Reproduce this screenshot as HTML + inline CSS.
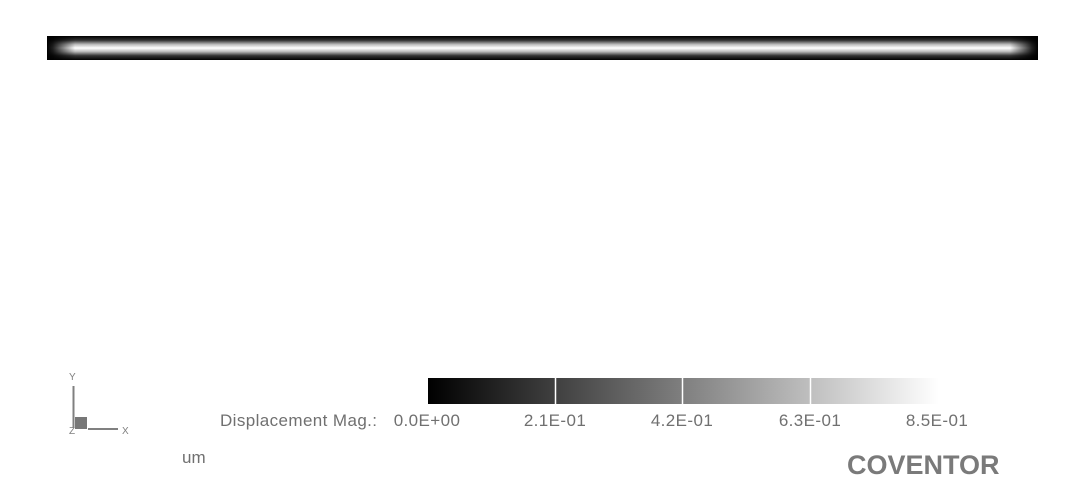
<!DOCTYPE html>
<html><head><meta charset="utf-8"><style>
body{margin:0;width:1084px;height:485px;background:#fff;position:relative;overflow:hidden;font-family:"Liberation Sans",sans-serif;color:#707070}
.a{position:absolute}
#beam{left:47px;top:36px;width:991px;height:24px;
background:linear-gradient(to bottom,#000 0%,#333 18%,#bbb 35%,#fff 50%,#bbb 65%,#333 82%,#000 100%),linear-gradient(to right,#000 0px,#222 6px,#fff 28px,#fff calc(100% - 28px),#222 calc(100% - 6px),#000 100%);
background-blend-mode:multiply}
.lbl{font-size:17px;letter-spacing:0.4px;top:411px;transform:translateX(-50%);white-space:nowrap}
</style></head><body>
<div id="beam" class="a"></div>
<svg class="a" style="left:0;top:0" width="1084" height="485">
<defs><linearGradient id="g" x1="0" x2="1"><stop offset="0" stop-color="#000"/><stop offset="1" stop-color="#fff"/></linearGradient></defs>
<rect x="428" y="378" width="511" height="26" fill="url(#g)"/>
<g stroke="#fff" stroke-width="1.5"><line x1="555.5" y1="378" x2="555.5" y2="404"/><line x1="682.5" y1="378" x2="682.5" y2="404"/><line x1="810.5" y1="378" x2="810.5" y2="404"/></g>
<g>
<line x1="73.5" y1="386" x2="73.5" y2="428" stroke="#808080" stroke-width="2"/>
<line x1="88" y1="429" x2="118" y2="429" stroke="#808080" stroke-width="2"/>
<rect x="75" y="417" width="12" height="12" fill="#777"/>
<text x="69" y="380" font-size="10" fill="#808080" font-family="Liberation Sans">Y</text>
<text x="122" y="434" font-size="10" fill="#808080" font-family="Liberation Sans">X</text>
<text x="69" y="434" font-size="10" fill="#808080" font-family="Liberation Sans">Z</text>
</g>
</svg>
<div class="a" style="left:220px;top:411px;font-size:17px;letter-spacing:0.4px">Displacement Mag.:</div>
<div class="a lbl" style="left:427px">0.0E+00</div>
<div class="a lbl" style="left:555px">2.1E-01</div>
<div class="a lbl" style="left:682px">4.2E-01</div>
<div class="a lbl" style="left:810px">6.3E-01</div>
<div class="a lbl" style="left:937px">8.5E-01</div>
<div class="a" style="left:182px;top:448px;font-size:17px">um</div>
<div class="a" style="left:847px;top:450px;font-size:27px;font-weight:bold;color:#7a7a7a">COVENTOR</div>
</body></html>
